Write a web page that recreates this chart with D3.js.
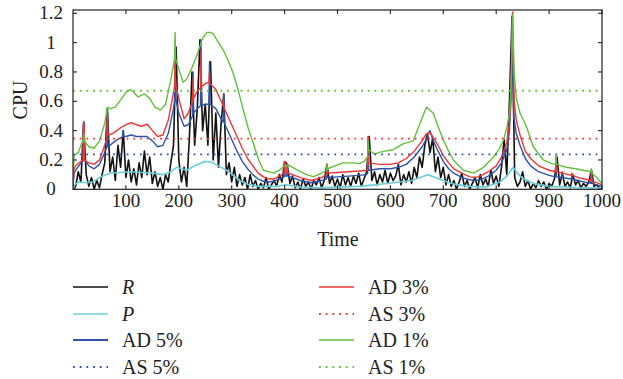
<!DOCTYPE html>
<html>
<head>
<meta charset="utf-8">
<script src="https://cdn.jsdelivr.net/npm/d3@7"></script>
<style>
    body { margin: 0; background: #fff; }
    text { font-family: "Liberation Serif", "DejaVu Serif", serif; fill: #222; }
</style>
</head>
<body>
<svg id="chart" width="623" height="379"></svg>
<script>
// R sampled every 5 time units (t = 0, 5, ..., 1000)
let rStep = 5;
let rValues = [
    0.00, 0.02, 0.12, 0.05, 0.45, 0.10, 0.02, 0.08, 0.00, 0.06,
    0.01, 0.10, 0.18, 0.55, 0.12, 0.22, 0.06, 0.30, 0.15, 0.40,
    0.08, 0.20, 0.05, 0.14, 0.03, 0.18, 0.08, 0.26, 0.10, 0.22,
    0.04, 0.12, 0.02, 0.08, 0.00, 0.10, 0.05, 0.18, 0.30, 0.97,
    0.20, 0.05, 0.15, 0.02, 0.35, 0.80, 0.30, 0.55, 1.02, 0.40,
    0.58, 0.30, 0.87, 0.20, 0.52, 0.15, 0.45, 0.65, 0.10, 0.18,
    0.05, 0.15, 0.02, 0.10, 0.03, 0.08, 0.00, 0.10, 0.02, 0.06,
    0.00, 0.04, 0.01, 0.08, 0.00, 0.03, 0.06, 0.02, 0.10, 0.05,
    0.19, 0.17, 0.04, 0.09, 0.01, 0.05, 0.00, 0.07, 0.02, 0.05,
    0.00, 0.06, 0.03, 0.08, 0.01, 0.06, 0.17, 0.04, 0.09, 0.02,
    0.07, 0.01, 0.10, 0.03, 0.08, 0.02, 0.09, 0.04, 0.11, 0.02,
    0.07, 0.12, 0.36, 0.06, 0.12, 0.03, 0.10, 0.05, 0.13, 0.04,
    0.11, 0.06, 0.09, 0.17, 0.03, 0.10, 0.05, 0.12, 0.04, 0.15,
    0.08, 0.22, 0.15, 0.30, 0.38, 0.25, 0.35, 0.12, 0.22, 0.08,
    0.15, 0.03, 0.10, 0.02, 0.06, 0.00, 0.05, 0.11, 0.02, 0.06,
    0.00, 0.04, 0.08, 0.01, 0.10, 0.03, 0.07, 0.02, 0.13, 0.04,
    0.09, 0.02, 0.15, 0.34, 0.10, 0.60, 1.18, 0.08, 0.02, 0.05,
    0.12, 0.02, 0.06, 0.00, 0.04, 0.01, 0.06, 0.02, 0.05, 0.00,
    0.04, 0.02, 0.07, 0.22, 0.03, 0.11, 0.02, 0.05, 0.01, 0.10,
    0.03, 0.06, 0.01, 0.04, 0.02, 0.05, 0.13, 0.02, 0.03, 0.01,
    0.00
];

// P and the AD envelopes as [time, cpu] pairs
let pPoints = [
    [0, 0.0], [3, 0.03], [10, 0.05], [25, 0.045], [38, 0.05], [50, 0.08], [69, 0.11], [90, 0.115],
    [108, 0.12], [130, 0.115], [152, 0.11], [170, 0.10], [185, 0.12], [196, 0.15], [205, 0.14],
    [215, 0.13], [230, 0.16], [249, 0.19], [262, 0.185], [275, 0.16], [290, 0.13], [305, 0.09],
    [315, 0.06], [330, 0.035], [350, 0.02], [380, 0.02], [404, 0.03], [430, 0.015], [460, 0.01],
    [500, 0.015], [540, 0.02], [570, 0.03], [605, 0.045], [640, 0.06], [660, 0.085], [671, 0.10],
    [685, 0.08], [700, 0.06], [720, 0.035], [750, 0.02], [780, 0.015], [807, 0.05], [820, 0.09],
    [832, 0.15], [840, 0.11], [850, 0.075], [870, 0.04], [900, 0.02], [950, 0.012], [1000, 0.008]
];

let ad5Points = [
    [0, 0.02], [2, 0.11], [5, 0.13], [15, 0.18], [19, 0.19], [20, 0.46], [21, 0.46], [22, 0.2],
    [30, 0.16], [40, 0.14], [50, 0.17], [60, 0.25], [64, 0.29], [65, 0.55], [66, 0.29], [70, 0.30],
    [80, 0.33], [90, 0.35], [94, 0.36], [95, 0.40], [96, 0.36], [100, 0.36], [110, 0.37], [120, 0.36],
    [130, 0.36], [140, 0.36], [150, 0.33], [160, 0.29], [170, 0.30], [180, 0.38], [190, 0.55],
    [192, 0.6], [193, 0.85], [194, 0.62], [200, 0.52], [210, 0.43], [218, 0.44], [226, 0.50],
    [227, 0.80], [228, 0.52], [235, 0.55], [241, 0.57], [242, 1.02], [243, 0.57], [250, 0.58],
    [257, 0.58], [258, 0.87], [259, 0.58], [270, 0.55], [280, 0.48], [284, 0.46], [285, 0.65],
    [286, 0.45], [290, 0.42], [300, 0.34], [310, 0.26], [320, 0.19], [330, 0.14], [340, 0.10],
    [350, 0.07], [360, 0.055], [370, 0.05], [380, 0.055], [390, 0.07], [399, 0.085], [400, 0.17],
    [401, 0.09], [404, 0.09], [405, 0.15], [406, 0.09], [415, 0.08], [430, 0.06], [450, 0.045],
    [470, 0.06], [479, 0.07], [480, 0.17], [481, 0.08], [500, 0.085], [520, 0.09], [540, 0.095],
    [555, 0.10], [557, 0.11], [558, 0.36], [559, 0.13], [580, 0.14], [600, 0.14], [615, 0.15],
    [630, 0.17], [645, 0.22], [660, 0.29], [669, 0.35], [670, 0.37], [675, 0.40], [680, 0.34],
    [690, 0.26], [700, 0.19], [710, 0.14], [720, 0.11], [735, 0.08], [750, 0.065], [760, 0.06],
    [770, 0.065], [785, 0.09], [800, 0.13], [810, 0.18], [820, 0.27], [825, 0.40], [828, 0.6],
    [830, 1.18], [833, 0.5], [838, 0.38], [845, 0.3], [855, 0.21], [865, 0.16], [880, 0.12],
    [900, 0.095], [912, 0.085], [913, 0.20], [914, 0.085], [924, 0.08], [925, 0.10], [926, 0.08],
    [942, 0.07], [943, 0.09], [944, 0.07], [960, 0.055], [979, 0.04], [980, 0.11], [981, 0.04],
    [990, 0.03], [1000, 0.02]
];

let ad3Points = [
    [0, 0.02], [2, 0.14], [5, 0.16], [15, 0.19], [19, 0.2], [20, 0.45], [21, 0.45], [22, 0.2],
    [30, 0.18], [40, 0.17], [50, 0.2], [60, 0.3], [64, 0.35], [65, 0.53], [66, 0.37], [75, 0.38],
    [90, 0.42], [100, 0.44], [110, 0.455], [120, 0.44], [130, 0.43], [140, 0.445], [150, 0.40],
    [160, 0.36], [170, 0.37], [180, 0.47], [190, 0.66], [192, 0.7], [193, 0.93], [194, 0.72],
    [200, 0.62], [210, 0.48], [218, 0.52], [226, 0.60], [227, 0.76], [228, 0.62], [235, 0.67],
    [241, 0.69], [242, 0.95], [243, 0.70], [250, 0.72], [257, 0.73], [258, 0.80], [259, 0.72],
    [270, 0.68], [280, 0.60], [284, 0.57], [285, 0.60], [286, 0.55], [290, 0.52], [300, 0.44],
    [310, 0.36], [320, 0.28], [330, 0.21], [340, 0.16], [350, 0.11], [360, 0.085], [370, 0.07],
    [380, 0.07], [390, 0.09], [399, 0.11], [400, 0.19], [401, 0.115], [404, 0.115], [405, 0.17],
    [406, 0.11], [415, 0.10], [430, 0.08], [450, 0.06], [470, 0.08], [479, 0.1], [480, 0.17],
    [481, 0.11], [500, 0.115], [520, 0.12], [540, 0.125], [555, 0.13], [557, 0.14], [558, 0.36],
    [559, 0.18], [580, 0.17], [600, 0.17], [615, 0.18], [630, 0.21], [645, 0.26], [660, 0.33],
    [668, 0.38], [675, 0.385], [680, 0.36], [690, 0.30], [700, 0.23], [710, 0.18], [720, 0.14],
    [735, 0.11], [750, 0.085], [760, 0.08], [770, 0.09], [785, 0.12], [800, 0.16], [810, 0.22],
    [820, 0.32], [825, 0.45], [828, 0.7], [831, 1.21], [834, 0.6], [838, 0.47], [845, 0.37],
    [855, 0.26], [865, 0.21], [880, 0.16], [900, 0.13], [912, 0.12], [913, 0.22], [914, 0.12],
    [924, 0.11], [925, 0.12], [926, 0.11], [942, 0.095], [943, 0.11], [944, 0.095], [960, 0.075],
    [979, 0.06], [980, 0.12], [981, 0.055], [990, 0.045], [1000, 0.03]
];

let ad1Points = [
    [0, 0.05], [2, 0.23], [10, 0.25], [15, 0.30], [19, 0.33], [20, 0.38], [21, 0.33], [30, 0.29],
    [40, 0.28], [50, 0.33], [60, 0.45], [64, 0.54], [65, 0.56], [70, 0.55], [80, 0.56], [90, 0.61],
    [100, 0.66], [108, 0.68], [115, 0.66], [123, 0.63], [135, 0.65], [145, 0.62], [155, 0.56],
    [165, 0.54], [175, 0.58], [185, 0.75], [192, 0.89], [193, 1.07], [194, 0.89], [200, 0.82],
    [208, 0.73], [215, 0.75], [225, 0.83], [235, 0.92], [245, 1.03], [253, 1.07], [260, 1.07],
    [265, 1.06], [275, 1.0], [284, 0.95], [293, 0.88], [303, 0.79], [312, 0.68], [322, 0.54],
    [331, 0.42], [341, 0.31], [350, 0.21], [360, 0.13], [370, 0.12], [379, 0.11], [390, 0.13],
    [400, 0.16], [407, 0.166], [415, 0.15], [430, 0.12], [445, 0.095], [455, 0.086], [470, 0.11],
    [479, 0.13], [480, 0.17], [481, 0.14], [495, 0.16], [511, 0.18], [530, 0.18], [542, 0.175],
    [550, 0.19], [557, 0.22], [558, 0.33], [559, 0.27], [564, 0.256], [570, 0.24], [577, 0.25],
    [590, 0.26], [605, 0.27], [624, 0.31], [643, 0.33], [655, 0.44], [668, 0.56], [681, 0.52],
    [690, 0.43], [700, 0.336], [710, 0.26], [719, 0.20], [738, 0.13], [757, 0.11], [776, 0.15],
    [795, 0.22], [805, 0.27], [814, 0.336], [820, 0.42], [826, 0.54], [829, 0.8], [831, 1.19],
    [834, 0.79], [838, 0.62], [845, 0.52], [857, 0.43], [870, 0.29], [889, 0.20], [905, 0.175],
    [912, 0.17], [913, 0.23], [914, 0.17], [933, 0.15], [950, 0.14], [964, 0.13], [979, 0.12],
    [980, 0.14], [981, 0.11], [990, 0.08], [1000, 0.04]
];

// AS thresholds (flat)
let asLevels = [0.238, 0.345, 0.672];

let xTicks = [100, 200, 300, 400, 500, 600, 700, 800, 900, 1000];
let yTicks = [0, 0.2, 0.4, 0.6, 0.8, 1, 1.2];

let legendLabels = ["R", "P", "AD 5%", "AS 5%", "AD 3%", "AS 3%", "AD 1%", "AS 1%"];

// ---------------------------------------------------------------
let colors = {
    R: "#111111",
    P: "#6ccfd8",
    b: "#3053aa",
    r: "#f03535",
    g: "#62c03c"
};

let svg = d3.select("#chart");
let plotLeft = 73, plotRight = 602, plotTop = 10, plotBottom = 189.3;

let x = d3.scaleLinear().domain([0, 1000]).range([plotLeft, plotRight]);
let y = d3.scaleLinear().domain([0, 1.2]).range([plotBottom, 13.3]);

svg.append("clipPath").attr("id", "clip")
    .append("rect")
    .attr("x", plotLeft).attr("y", plotTop - 4)
    .attr("width", plotRight - plotLeft).attr("height", plotBottom - plotTop + 4);

let plot = svg.append("g").attr("clip-path", "url(#clip)");

let line = d3.line().x(d => x(d[0])).y(d => y(d[1]));

let rPoints = rValues.map((v, i) => [i * rStep, v]);

// draw order: R, P, AD5, AD3, AD1
plot.append("path").datum(rPoints)
    .attr("d", line).attr("fill", "none")
    .attr("stroke", colors.R).attr("stroke-width", 1.6).attr("stroke-linejoin", "round");

plot.append("path").datum(pPoints)
    .attr("d", line).attr("fill", "none")
    .attr("stroke", colors.P).attr("stroke-width", 1.6);

[[ad5Points, colors.b], [ad3Points, colors.r], [ad1Points, colors.g]].forEach(function (s) {
    plot.append("path").datum(s[0])
        .attr("d", line).attr("fill", "none")
        .attr("stroke", s[1]).attr("stroke-width", 1.4).attr("stroke-linejoin", "round");
});

// AS dotted levels
[colors.b, colors.r, colors.g].forEach(function (c, i) {
    plot.append("path").datum([[0, asLevels[i]], [1000, asLevels[i]]])
        .attr("d", line).attr("fill", "none")
        .attr("stroke", c).attr("stroke-width", 1.8)
        .attr("stroke-dasharray", "1.8,4.9");
});

// frame
svg.append("rect")
    .attr("x", plotLeft).attr("y", plotTop)
    .attr("width", plotRight - plotLeft).attr("height", plotBottom - plotTop)
    .attr("fill", "none").attr("stroke", "#222").attr("stroke-width", 1.2);

// inward ticks on all four sides
let tickLen = 4;
let axisG = svg.append("g").attr("stroke", "#222").attr("stroke-width", 1.1);
xTicks.forEach(function (t) {
    axisG.append("line").attr("x1", x(t)).attr("x2", x(t)).attr("y1", plotBottom).attr("y2", plotBottom - tickLen);
    axisG.append("line").attr("x1", x(t)).attr("x2", x(t)).attr("y1", plotTop).attr("y2", plotTop + tickLen);
});
yTicks.forEach(function (t) {
    axisG.append("line").attr("x1", plotLeft).attr("x2", plotLeft + tickLen).attr("y1", y(t)).attr("y2", y(t));
    axisG.append("line").attr("x1", plotRight).attr("x2", plotRight - tickLen).attr("y1", y(t)).attr("y2", y(t));
});

svg.selectAll("text.xtick").data(xTicks).enter().append("text")
    .attr("class", "xtick")
    .attr("x", d => x(d)).attr("y", 207)
    .attr("text-anchor", "middle")
    .style("font-size", "19px")
    .text(d => d);

svg.selectAll("text.ytick").data(yTicks).enter().append("text")
    .attr("class", "ytick")
    .attr("x", 51).attr("y", d => y(d) + 6)
    .attr("text-anchor", "middle")
    .style("font-size", "19px")
    .text(d => d);

svg.append("text")
    .attr("x", 338).attr("y", 246)
    .attr("text-anchor", "middle")
    .style("font-size", "20px")
    .text("Time");

svg.append("text")
    .attr("transform", "translate(27,100) rotate(-90)")
    .attr("text-anchor", "middle")
    .style("font-size", "20px")
    .text("CPU");

// legend, two columns of four
let legendStyles = [
    { c: colors.R, dash: null, w: 1.6 },
    { c: colors.P, dash: null, w: 1.6 },
    { c: colors.b, dash: null, w: 2 },
    { c: colors.b, dash: "1.8,4.9", w: 1.8 },
    { c: colors.r, dash: null, w: 1.6 },
    { c: colors.r, dash: "1.8,4.9", w: 1.8 },
    { c: colors.g, dash: null, w: 1.6 },
    { c: colors.g, dash: "1.8,4.9", w: 1.8 }
];
let rowY = [287, 314, 340, 367];

legendLabels.forEach(function (lab, i) {
    let col = Math.floor(i / 4), row = i % 4;
    let lx = col === 0 ? 73 : 319;
    let st = legendStyles[i];
    svg.append("line")
        .attr("x1", lx).attr("x2", lx + 35)
        .attr("y1", rowY[row]).attr("y2", rowY[row])
        .attr("stroke", st.c).attr("stroke-width", st.w)
        .attr("stroke-dasharray", st.dash);
    svg.append("text")
        .attr("x", lx + 49).attr("y", rowY[row] + 7)
        .style("font-size", "20px")
        .style("font-style", (lab === "R" || lab === "P") ? "italic" : "normal")
        .text(lab);
});
</script>
</body>
</html>
